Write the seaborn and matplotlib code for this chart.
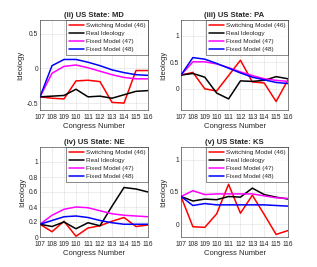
import matplotlib
matplotlib.use('Agg')
import matplotlib.pyplot as plt
import pandas as pd
import seaborn as sns

congress = [107, 108, 109, 110, 111, 112, 113, 114, 115, 116]
series_names = ['Switching Model (46)', 'Real Ideology',
                'Fixed Model (47)', 'Fixed Model (48)']
series_colors = ['#ff0000', '#000000', '#ff00ff', '#0000ff']

# (ii) MD
md_switch = [-0.41, -0.43, -0.44, -0.18, -0.17, -0.19, -0.49, -0.50, -0.03, -0.03]
md_real = [-0.41, -0.40, -0.39, -0.30, -0.41, -0.40, -0.43, -0.38, -0.33, -0.32]
md_fixed47 = [-0.41, -0.07, 0.03, 0.05, 0.01, -0.04, -0.09, -0.13, -0.15, -0.15]
md_fixed48 = [-0.41, 0.04, 0.13, 0.13, 0.09, 0.04, -0.02, -0.06, -0.09, -0.10]

# (iii) PA
pa_switch = [0.26, 0.31, 0.00, -0.04, 0.25, 0.54, 0.13, 0.11, -0.24, 0.17]
pa_real = [0.26, 0.29, 0.22, -0.08, -0.19, 0.15, 0.14, 0.16, 0.23, 0.19]
pa_fixed47 = [0.26, 0.51, 0.51, 0.47, 0.40, 0.32, 0.25, 0.19, 0.16, 0.14]
pa_fixed48 = [0.26, 0.59, 0.56, 0.48, 0.39, 0.30, 0.22, 0.17, 0.12, 0.10]

# (iv) NE
ne_switch = [0.17, 0.07, 0.21, 0.01, 0.12, 0.15, 0.21, 0.26, 0.14, 0.16]
ne_real = [0.17, 0.14, 0.20, 0.11, 0.19, 0.15, 0.41, 0.66, 0.64, 0.60]
ne_fixed47 = [0.17, 0.29, 0.37, 0.40, 0.39, 0.35, 0.31, 0.29, 0.28, 0.27]
ne_fixed48 = [0.17, 0.22, 0.27, 0.28, 0.26, 0.22, 0.19, 0.17, 0.17, 0.17]

# (v) KS
ks_switch = [0.43, -0.04, -0.05, 0.16, 0.62, 0.17, 0.45, 0.15, -0.16, -0.10]
ks_real = [0.43, 0.36, 0.39, 0.38, 0.43, 0.42, 0.56, 0.46, 0.42, 0.39]
ks_fixed47 = [0.43, 0.52, 0.46, 0.47, 0.47, 0.47, 0.47, 0.44, 0.41, 0.40]
ks_fixed48 = [0.43, 0.29, 0.32, 0.30, 0.30, 0.30, 0.30, 0.30, 0.29, 0.28]

panels = [
    ('(ii) US State: MD', [md_switch, md_real, md_fixed47, md_fixed48],
     (-0.6, 0.7), [-0.5, 0, 0.5], ['-0.5', '0', '0.5']),
    ('(iii) US State: PA', [pa_switch, pa_real, pa_fixed47, pa_fixed48],
     (-0.4, 1.3), [0, 0.5, 1], ['0', '0.5', '1']),
    ('(iv) US State: NE', [ne_switch, ne_real, ne_fixed47, ne_fixed48],
     (0, 1.2), [0, 0.2, 0.4, 0.6, 0.8, 1], ['0', '0.2', '0.4', '0.6', '0.8', '1']),
    ('(v) US State: KS', [ks_switch, ks_real, ks_fixed47, ks_fixed48],
     (-0.2, 1.2), [0, 0.5, 1], ['0', '0.5', '1']),
]

sns.set_style('white')
plt.rcParams['font.family'] = ['Liberation Sans', 'DejaVu Sans']

fig = plt.figure(figsize=(3.17, 2.67), dpi=100)
positions = [
    [40 / 317, 1 - 110 / 267, 108 / 317, 90 / 267],
    [181 / 317, 1 - 110 / 267, 107 / 317, 90 / 267],
    [40 / 317, 1 - 237 / 267, 108 / 317, 90 / 267],
    [181 / 317, 1 - 237 / 267, 107 / 317, 90 / 267],
]

for pos, (title, values, ylim, yticks, ylabels) in zip(positions, panels):
    ax = fig.add_axes(pos)
    df = pd.DataFrame({'congress': congress * 4,
                       'ideology': sum(values, []),
                       'series': [n for n in series_names for _ in congress]})
    sns.lineplot(data=df, x='congress', y='ideology', hue='series',
                 hue_order=series_names, palette=series_colors,
                 linewidth=1.1, ax=ax)
    ax.set_xlim(107, 116)
    ax.set_ylim(*ylim)
    ax.set_xticks(congress)
    ax.set_xticklabels([str(c) for c in congress], fontsize=4.8, color='#262626')
    ax.set_yticks(yticks)
    ax.set_yticklabels(ylabels, fontsize=4.8, color='#262626')
    ax.tick_params(length=1.5, width=0.4, pad=1.5, direction='in')
    ax.tick_params(axis='x', pad=3)
    ax.grid(True, color='#e0e0e0', linewidth=0.4)
    for s in ax.spines.values():
        s.set_color('#262626')
        s.set_linewidth(0.4)
    ax.set_xlabel('Congress Number', fontsize=5.5, color='#262626', labelpad=1.5)
    ax.set_ylabel('Ideology', fontsize=5.5, color='#262626', labelpad=1.5)
    ax.set_title(title, fontsize=5.5, fontweight='bold', pad=2)
    leg = ax.legend(loc='upper right', fontsize=4.6, frameon=True, fancybox=False,
                    borderaxespad=0, handlelength=2.4, handletextpad=0.3,
                    borderpad=0.4, labelspacing=0.4)
    leg.get_frame().set_edgecolor('black')
    leg.get_frame().set_linewidth(0.4)
    for line in leg.get_lines():
        line.set_linewidth(1.1)

fig.savefig('out.png', dpi=100)
